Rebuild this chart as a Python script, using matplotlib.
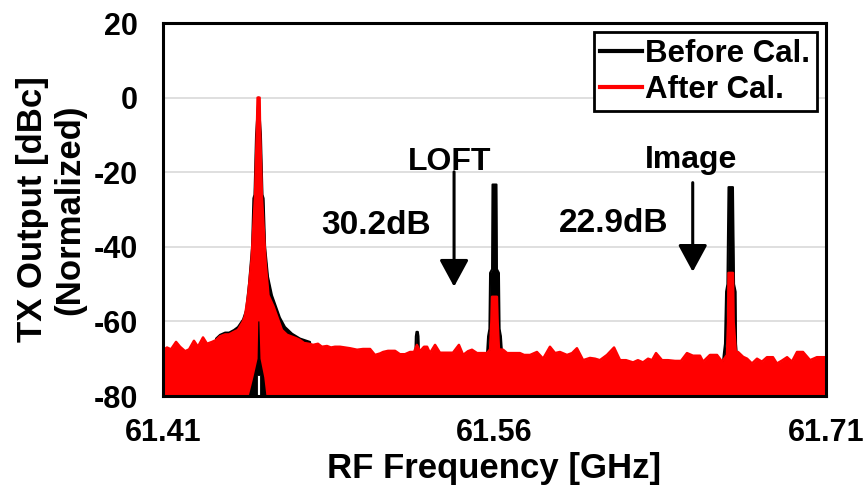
import matplotlib
matplotlib.use("Agg")
import matplotlib.pyplot as plt
from matplotlib.lines import Line2D

plt.rcParams['font.family'] = ['Liberation Sans', 'DejaVu Sans']
plt.rcParams['font.weight'] = 'bold'
plt.rcParams['axes.unicode_minus'] = False

# after calibration trace (red)
after_freq = [
    61.4100, 61.4118, 61.4136, 61.4159, 61.4177, 61.4200, 61.4218, 61.4240, 61.4258, 61.4281,
    61.4299, 61.4322, 61.4340, 61.4358, 61.4381, 61.4399, 61.4421, 61.4439, 61.4462, 61.4471,
    61.4485, 61.4500, 61.4516, 61.4525, 61.4528, 61.4537, 61.4539, 61.4548, 61.4564, 61.4577,
    61.4600, 61.4620, 61.4638, 61.4661, 61.4679, 61.4702, 61.4720, 61.4738, 61.4761, 61.4779,
    61.4801, 61.4819, 61.4842, 61.4860, 61.4878, 61.4901, 61.4924, 61.4946, 61.4978, 61.5005,
    61.5037, 61.5059, 61.5082, 61.5096, 61.5118, 61.5150, 61.5172, 61.5195, 61.5218, 61.5236,
    61.5249, 61.5263, 61.5281, 61.5295, 61.5308, 61.5331, 61.5353, 61.5385, 61.5412, 61.5439,
    61.5458, 61.5480, 61.5498, 61.5521, 61.5543, 61.5566, 61.5580, 61.5586, 61.5589, 61.5611,
    61.5614, 61.5620, 61.5639, 61.5657, 61.5684, 61.5715, 61.5734, 61.5761, 61.5792, 61.5820,
    61.5851, 61.5874, 61.5896, 61.5928, 61.5951, 61.5973, 61.6001, 61.6032, 61.6055, 61.6077,
    61.6109, 61.6141, 61.6168, 61.6195, 61.6227, 61.6249, 61.6272, 61.6295, 61.6313, 61.6331,
    61.6358, 61.6385, 61.6417, 61.6444, 61.6471, 61.6498, 61.6530, 61.6544, 61.6575, 61.6607,
    61.6630, 61.6652, 61.6657, 61.6659, 61.6679, 61.6682, 61.6693, 61.6702, 61.6725, 61.6743,
    61.6765, 61.6788, 61.6810, 61.6833, 61.6860, 61.6878, 61.6901, 61.6924, 61.6946, 61.6969,
    61.6996, 61.7028, 61.7059, 61.7100]
after_db = [
    -67.7, -67.0, -67.5, -65.5, -66.8, -68.0, -67.5, -65.2, -66.8, -64.3,
    -66.0, -65.5, -65.0, -64.0, -63.5, -63.5, -62.8, -62.3, -60.0, -58.5,
    -53.0, -44.0, -27.0, -8.0, 0.0, 0.0, -8.0, -27.0, -44.0, -53.0,
    -56.0, -59.3, -62.3, -63.6, -64.0, -64.5, -65.0, -65.8, -66.0, -66.3,
    -66.0, -66.8, -66.6, -67.0, -66.8, -66.8, -67.0, -67.2, -67.6, -67.4,
    -67.4, -69.0, -68.6, -68.2, -67.9, -67.9, -68.8, -68.8, -68.2, -68.2,
    -66.3, -68.0, -66.8, -66.8, -68.5, -66.3, -68.4, -68.4, -68.4, -66.3,
    -69.0, -68.0, -67.6, -68.5, -68.5, -68.5, -67.5, -60.0, -53.4, -53.4,
    -60.0, -67.5, -67.6, -68.5, -68.5, -68.5, -69.0, -69.0, -68.2, -70.0,
    -66.8, -68.5, -68.2, -69.0, -68.5, -67.2, -70.4, -69.8, -70.0, -70.4,
    -69.0, -67.0, -70.4, -70.4, -71.0, -70.4, -71.0, -70.0, -70.4, -68.5,
    -70.4, -70.4, -70.6, -70.6, -68.5, -69.2, -69.2, -70.8, -69.0, -69.0,
    -70.8, -69.0, -60.0, -47.0, -47.0, -60.0, -69.0, -68.2, -69.5, -70.0,
    -71.3, -70.0, -70.8, -69.6, -69.6, -71.3, -70.5, -69.6, -70.8, -68.2,
    -68.2, -70.4, -69.6, -69.6]

# before calibration trace (black), only where it shows above the red one
before_freq = [
    61.4100, 61.4330, 61.4340, 61.4358, 61.4381, 61.4399, 61.4421, 61.4439, 61.4462, 61.4476,
    61.4489, 61.4503, 61.4509, 61.4514, 61.4521, 61.4532, 61.4543, 61.4550, 61.4555, 61.4562,
    61.4575, 61.4593, 61.4611, 61.4629, 61.4652, 61.4684, 61.4720, 61.4765, 61.4788, 61.5240,
    61.5244, 61.5247, 61.5253, 61.5256, 61.5260, 61.5562, 61.5571, 61.5577, 61.5580, 61.5589,
    61.5591, 61.5609, 61.5611, 61.5620, 61.5623, 61.5629, 61.5639, 61.6630, 61.6639, 61.6643,
    61.6648, 61.6654, 61.6659, 61.6679, 61.6684, 61.6691, 61.6693, 61.6702, 61.7100]
before_db = [
    -73.0, -73.0, -64.6, -63.6, -63.0, -63.0, -62.3, -61.5, -59.5, -57.0,
    -50.0, -40.0, -27.0, -26.0, -10.0, 0.0, -10.0, -26.0, -27.0, -40.0,
    -48.0, -53.0, -56.0, -59.0, -61.5, -63.3, -64.6, -65.5, -73.0, -73.0,
    -64.0, -62.8, -62.8, -64.0, -73.0, -73.0, -64.0, -62.0, -47.0, -46.0,
    -23.3, -23.3, -46.0, -47.0, -62.0, -64.0, -73.0, -73.0, -68.0, -66.0,
    -52.0, -50.0, -24.0, -24.0, -50.0, -52.0, -66.0, -73.0, -73.0]

# hole under the carrier
notch_freq = [61.4488, 61.4509, 61.4528, 61.4531, 61.4536, 61.4541, 61.4558, 61.4568]
notch_db = [-80.0, -75.0, -70.0, -60.0, -60.0, -70.0, -75.0, -80.0]
gap_freq = [61.4526, 61.4526, 61.4539, 61.4539]
gap_db = [-80.0, -74.5, -74.5, -80.0]

x_ticks = [61.41, 61.56, 61.71]
y_ticks = [-80, -60, -40, -20, 0, 20]

fig = plt.figure(figsize=(8.63, 4.97), dpi=100)
ax = fig.add_axes([0.1889, 0.2032, 0.7682, 0.7505])

ax.fill_between(before_freq, -85, before_db, color='black', lw=0, zorder=1.0)
ax.plot(before_freq, before_db, color='black', lw=1.5, solid_joinstyle='round', zorder=1.1)
ax.fill_between(after_freq, -85, after_db, color='#ff0000', lw=0, zorder=1.2)
ax.plot(after_freq, after_db, color='#ff0000', lw=1.8, solid_joinstyle='round', zorder=1.3)
ax.fill(notch_freq, notch_db, color='black', lw=0, zorder=1.4)
ax.fill(gap_freq, gap_db, facecolor='white', edgecolor='black', lw=0.6, zorder=1.5)

ax.set_xlim(61.41, 61.71)
ax.set_ylim(-80, 20)
ax.set_xticks(x_ticks)
ax.set_xticklabels(['%.2f' % v for v in x_ticks])
ax.set_yticks(y_ticks)
ax.yaxis.grid(True, color='#d9d9d9', lw=1.2)
ax.set_axisbelow(True)
ax.tick_params(axis='both', length=0, labelsize=22)
ax.tick_params(axis='y', pad=18)
ax.tick_params(axis='x', pad=16)
for s in ax.spines.values():
    s.set_linewidth(2.2)
    s.set_zorder(3)

ax.set_xlabel('RF Frequency [GHz]', fontsize=25, fontweight='bold', labelpad=3)
ax.set_ylabel('TX Output [dBc]\n(Normalized)', fontsize=25, fontweight='bold', labelpad=5)

# annotations
ax.text(61.5398, -19.4, 'LOFT', fontsize=23, ha='center', va='baseline')
ax.text(61.5064, -36.6, '30.2dB', fontsize=24, ha='center', va='baseline')
ax.text(61.6491, -18.9, 'Image', fontsize=23, ha='center', va='baseline')
ax.text(61.6140, -36.0, '22.9dB', fontsize=24, ha='center', va='baseline')
arr = dict(arrowstyle='-|>,head_length=0.83,head_width=0.45', mutation_scale=20,
           lw=2.2, color='black', shrinkA=0, shrinkB=0)
ax.annotate('', xy=(61.5417, -50.7), xytext=(61.5417, -19.9), arrowprops=arr)
ax.annotate('', xy=(61.6497, -46.7), xytext=(61.6497, -22.8), arrowprops=arr)

handles = [Line2D([], [], color='black', lw=3), Line2D([], [], color='#ff0000', lw=3)]
leg = ax.legend(handles, ['Before Cal.', 'After Cal.'], loc='upper right', fontsize=22.5,
                handlelength=1.35, handletextpad=0.1, labelspacing=0.2, borderpad=0.2,
                borderaxespad=0.3, fancybox=False, framealpha=1)
leg.get_frame().set_edgecolor('black')
leg.get_frame().set_linewidth(2)
leg.set_zorder(4)

fig.savefig('out.png', dpi=100)
